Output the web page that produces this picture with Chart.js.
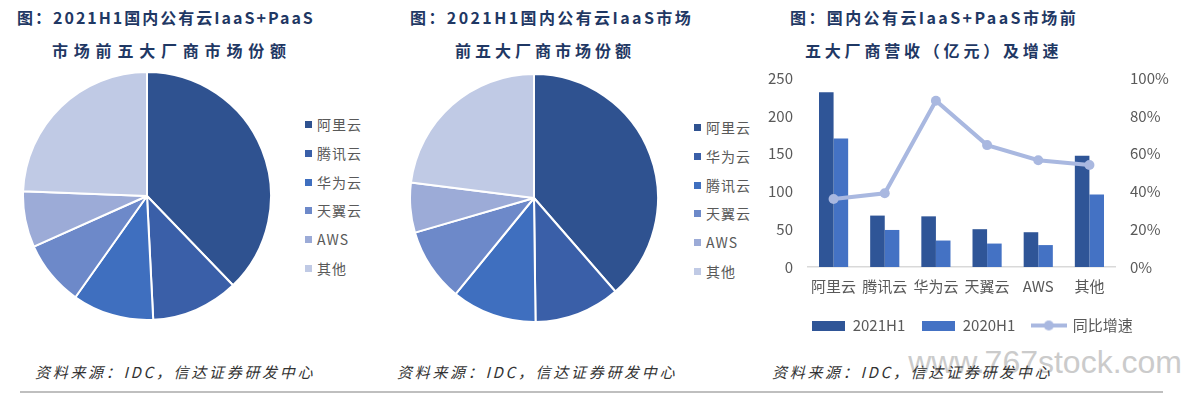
<!DOCTYPE html>
<html>
<head>
<meta charset="utf-8">
<script src="https://cdn.jsdelivr.net/npm/chart.js@4.4.0/dist/chart.umd.min.js"></script>
<style>
  body { margin: 0; width: 1184px; height: 397px; background: #fff; position: relative; overflow: hidden; font-family: "Noto Sans CJK SC", sans-serif; }
  .t { position: absolute; white-space: nowrap; font-weight: 700; color: #1f3864; font-size: 16px; line-height: 20px; }
  .src { position: absolute; white-space: nowrap; font-style: italic; color: #333; font-size: 15px; line-height: 20px; letter-spacing: 2.7px; top: 362px; }
  .lg { position: absolute; font-size: 14px; color: #595959; line-height: 18px; letter-spacing: 1px; }
  .lg div { position: absolute; white-space: nowrap; }
  .lg span { display: inline-block; width: 7px; height: 7px; margin-right: 5px; vertical-align: 2px; }
  canvas { position: absolute; }
</style>
</head>
<body>
<div class="t" style="left:17px;top:7px;letter-spacing:2px">图：2021H1国内公有云IaaS+PaaS</div>
<div class="t" style="left:52px;top:40px;letter-spacing:5.8px">市场前五大厂商市场份额</div>
<div class="t" style="left:410px;top:7px;letter-spacing:2.4px">图：2021H1国内公有云IaaS市场</div>
<div class="t" style="left:455px;top:40px;letter-spacing:4px">前五大厂商市场份额</div>
<div class="t" style="left:790px;top:7px;letter-spacing:2.4px">图：国内公有云IaaS+PaaS市场前</div>
<div class="t" style="left:805px;top:40px;letter-spacing:3.8px">五大厂商营收（亿元）及增速</div>

<canvas id="pie1" width="250" height="250" style="left:22px;top:71px"></canvas>
<div class="lg" id="lg1" style="left:305px;top:0"></div>
<canvas id="pie2" width="250" height="250" style="left:409px;top:73px"></canvas>
<div class="lg" id="lg2" style="left:694px;top:0"></div>
<canvas id="combo" width="415" height="289" style="left:765px;top:54px"></canvas>

<div style="position:absolute;right:2px;top:344px;font-size:32px;line-height:36px;color:#cbcbcb;font-family:'Liberation Sans',sans-serif;white-space:nowrap">www.767stock.com</div>
<div class="src" style="left:35px">资料来源：IDC，信达证券研发中心</div>
<div class="src" style="left:397px">资料来源：IDC，信达证券研发中心</div>
<div class="src" style="left:772px">资料来源：IDC，信达证券研发中心</div>
<div style="position:absolute;left:20px;top:391px;width:1143px;height:2px;background:#bfbfbf"></div>

<script>
// 2021H1 IaaS+PaaS share (%)
const share1Labels = ["阿里云", "腾讯云", "华为云", "天翼云", "AWS", "其他"];
const share1Values = [37.8, 11.4, 10.6, 8.5, 7.3, 24.4];
// 2021H1 IaaS share (%)
const share2Labels = ["阿里云", "华为云", "腾讯云", "天翼云", "AWS", "其他"];
const share2Values = [38.6, 11.2, 11.1, 9.6, 6.5, 23.0];
// revenue (亿元) and yoy growth
const vendors = ["阿里云", "腾讯云", "华为云", "天翼云", "AWS", "其他"];
const rev2021 = [231, 68, 67, 50, 46, 147];
const rev2020 = [170, 49, 35, 31, 29, 96];
const growth = [0.36, 0.39, 0.88, 0.645, 0.565, 0.54];

const pieColors = ["#2f5290", "#3a5fa8", "#3f6fbf", "#6d89c9", "#9cabd7", "#c0cae5"];

function makePie(id, labels, values) {
  new Chart(document.getElementById(id), {
    type: "pie",
    data: {
      labels: labels,
      datasets: [{ data: values, backgroundColor: pieColors, borderColor: "#fff", borderWidth: 2 }],
    },
    options: {
      responsive: false,
      animation: false,
      plugins: { legend: { display: false }, tooltip: { enabled: false } },
    },
  });
}
function makeLegend(id, labels, top0, step) {
  let el = document.getElementById(id);
  labels.forEach((l, i) => {
    el.innerHTML += `<div style="top:${top0 + i * step}px"><span style="background:${pieColors[i]}"></span>${l}</div>`;
  });
}
makePie("pie1", share1Labels, share1Values);
makePie("pie2", share2Labels, share2Values);
makeLegend("lg1", share1Labels, 115, 28.8);
makeLegend("lg2", share2Labels, 118, 28.8);

// legend icons
function icon(w, h, draw) {
  let c = document.createElement("canvas");
  c.width = w; c.height = h;
  draw(c.getContext("2d"));
  return c;
}
const icons = [
  icon(33, 10, (g) => { g.fillStyle = "#2f5597"; g.fillRect(0, 0, 33, 10); }),
  icon(33, 10, (g) => { g.fillStyle = "#4472c4"; g.fillRect(0, 0, 33, 10); }),
  icon(36, 12, (g) => {
    g.strokeStyle = "#a9b8e0"; g.lineWidth = 4;
    g.beginPath(); g.moveTo(0, 6); g.lineTo(36, 6); g.stroke();
    g.fillStyle = "#a9b8e0"; g.beginPath(); g.arc(18, 6, 5, 0, Math.PI * 2); g.fill();
  }),
];

const tickFont = { family: "Noto Sans CJK SC", size: 15 };
new Chart(document.getElementById("combo"), {
  type: "bar",
  data: {
    labels: vendors,
    datasets: [
      { label: "2021H1", data: rev2021, backgroundColor: "#2f5597", yAxisID: "y", order: 1, categoryPercentage: 0.57, barPercentage: 1 },
      { label: "2020H1", data: rev2020, backgroundColor: "#4472c4", yAxisID: "y", order: 1, categoryPercentage: 0.57, barPercentage: 1 },
      { type: "line", label: "同比增速", data: growth, yAxisID: "y1", order: 0,
        borderColor: "#a9b8e0", backgroundColor: "#a9b8e0", borderWidth: 4,
        pointRadius: 5, pointBackgroundColor: "#a9b8e0", pointBorderWidth: 0 },
    ],
  },
  options: {
    responsive: false,
    animation: false,
    layout: { padding: { top: 2 } },
    scales: {
      x: {
        grid: { display: false, drawTicks: false },
        border: { color: "#d9d9d9", width: 1.5 },
        ticks: { color: "#595959", font: tickFont, padding: 10 },
        afterFit: (s) => { s.height = 34; },
      },
      y: {
        position: "left", min: 0, max: 250,
        grid: { display: false, drawTicks: false },
        border: { display: false },
        ticks: { stepSize: 50, color: "#595959", font: tickFont, padding: 15 },
        afterFit: (s) => { s.width = 43; },
      },
      y1: {
        position: "right", min: 0, max: 1,
        grid: { display: false, drawTicks: false },
        border: { display: false },
        ticks: { stepSize: 0.2, color: "#595959", font: tickFont, padding: 15,
          callback: (v) => Math.round(v * 100) + "%" },
        afterFit: (s) => { s.width = 65; },
      },
    },
    plugins: {
      tooltip: { enabled: false },
      legend: {
        position: "bottom",
        labels: {
          usePointStyle: true,
          pointStyleWidth: 33,
          padding: 17,
          color: "#595959",
          font: { family: "Noto Sans CJK SC", size: 15 },
          sort: (a, b) => a.datasetIndex - b.datasetIndex,
          generateLabels: (chart) => {
            let items = Chart.defaults.plugins.legend.labels.generateLabels(chart);
            items.forEach((it) => { it.pointStyle = icons[it.datasetIndex]; });
            return items;
          },
        },
      },
    },
  },
});
</script>
</body>
</html>
